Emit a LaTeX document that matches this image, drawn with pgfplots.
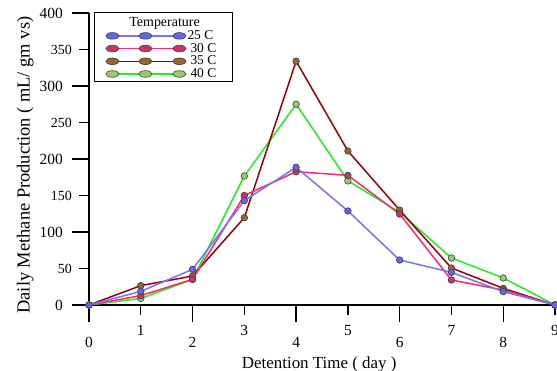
\documentclass[border=0pt]{standalone}
\usepackage{pgfplots}
\pgfplotsset{compat=1.18}
\usepackage{fontspec}
\setmainfont{Liberation Serif}
\definecolor{c25m}{HTML}{6464F0}
\definecolor{c25l}{HTML}{7474FF}
\definecolor{c30m}{HTML}{CC3366}
\definecolor{c30l}{HTML}{FF2A6E}
\definecolor{c35m}{HTML}{99642E}
\definecolor{c35l}{HTML}{990000}
\definecolor{c40m}{HTML}{99CC66}
\definecolor{c40l}{HTML}{22EE22}
\begin{document}
\begin{tikzpicture}
\begin{axis}[
  scale only axis, width=466bp, height=292bp,
  xmin=0, xmax=9, ymin=0, ymax=400,
  axis x line=bottom, axis y line=left, axis line style={line width=1.3bp, black},
  x axis line style={-}, y axis line style={-},
  clip=false,
  /pgf/number format/assume math mode=true,
  xtick={0,2,4,6,8}, ytick={0,100,200,300,400},
  extra x ticks={1,3,5,7,9}, extra y ticks={50,150,250,350},
  tick align=outside, major tick length=17bp,
  tick style={draw=none},
  xticklabel style={anchor=base, yshift=-25bp, font=\fontsize{15.5}{15.5}\selectfont},
  yticklabel style={anchor=east, inner xsep=0pt, xshift=-9bp, font=\fontsize{15.5}{15.5}\selectfont},
  extra x tick style={major tick length=10bp, xticklabel style={yshift=5bp}},
  extra y tick style={major tick length=9bp, yticklabel style={xshift=1bp, font=\fontsize{14}{14}\selectfont}},
  xlabel={Detention Time ( day )},
  ylabel={Daily Methane Production ( mL/ gm vs)},
  every axis x label/.style={at={(axis description cs:0.494,-0.2158)}, anchor=base, font=\fontsize{17}{17}\selectfont},
  every axis y label/.style={at={(axis description cs:-0.137,0.479)}, rotate=90, anchor=center, font=\fontsize{18.5}{18.5}\selectfont},
  legend reversed,
  legend style={at={(rel axis cs:0.011,1.003)}, anchor=north west, draw=black,
    font=\fontsize{13.5}{13.5}\selectfont, inner xsep=11.5bp, inner ysep=0.5bp, row sep=0pt,
    nodes={inner sep=1.5bp, text height=8.5bp, text depth=1.2bp}},
  legend image code/.code={\draw[#1, mark repeat=1, mark phase=1, every mark/.append style={xscale=2}] plot coordinates {(0bp,0bp) (33bp,0bp) (67bp,0bp)};},
]
% tick marks (axis decoration), drawn as filled bars
\pgfplotsinvokeforeach{0,2,4,6,8}{\fill[black] (axis cs:#1,0) ++(-0.7bp,0bp) rectangle ++(1.4bp,-17bp);}
\pgfplotsinvokeforeach{1,3,5,7,9}{\fill[black] (axis cs:#1,0) ++(-0.7bp,0bp) rectangle ++(1.4bp,-10bp);}
\pgfplotsinvokeforeach{0,100,200,300,400}{\fill[black] (axis cs:0,#1) ++(0bp,-0.7bp) rectangle ++(-17bp,1.4bp);}
\pgfplotsinvokeforeach{50,150,250,350}{\fill[black] (axis cs:0,#1) ++(0bp,-0.7bp) rectangle ++(-10bp,1.4bp);}
\addplot[color=c40l, line width=1.5bp, mark=*, mark size=3.3bp, mark options={fill=c40m, draw=black!75, line width=0.6bp}]
 coordinates {(0,0)(1,9)(2,35)(3,176.7)(4,275)(5,170)(6,127)(7,64.4)(8,37)(9,0)};
\addlegendentry{40 C}
\addplot[color=c35l, line width=1.5bp, mark=*, mark size=3.3bp, mark options={fill=c35m, draw=black!75, line width=0.6bp}]
 coordinates {(0,0)(1,26.5)(2,39.7)(3,119.6)(4,334)(5,211)(6,130)(7,50.7)(8,22.8)(9,0)};
\addlegendentry{35 C}
\addplot[color=c30l, line width=1.5bp, mark=*, mark size=3.3bp, mark options={fill=c30m, draw=black!75, line width=0.6bp}]
 coordinates {(0,0)(1,12.8)(2,35.2)(3,150)(4,182.6)(5,177.6)(6,124.6)(7,34.2)(8,20.5)(9,0)};
\addlegendentry{30 C}
\addplot[color=c25l, line width=1.5bp, mark=*, mark size=3.3bp, mark options={fill=c25m, draw=black!75, line width=0.6bp}]
 coordinates {(0,0)(1,18.7)(2,48.8)(3,143)(4,188.6)(5,128.8)(6,61.6)(7,44.7)(8,18.3)(9,0)};
\addlegendentry{25 C\hspace*{6bp}}
\addlegendimage{empty legend}
\addlegendentry[text height=12.5bp, font=\fontsize{14}{14}\selectfont]{\makebox[0pt][l]{\hspace*{-74bp}Temperature}}
\end{axis}
\pgfresetboundingbox
\path[use as bounding box] (-89bp,-66bp) rectangle (468bp,305bp);
\end{tikzpicture}
\end{document}
